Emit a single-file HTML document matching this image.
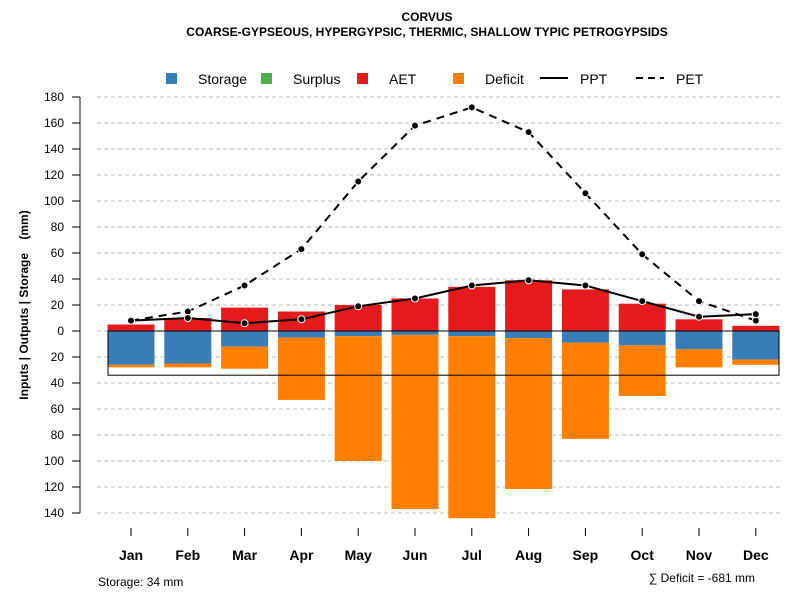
<!DOCTYPE html>
<html><head><meta charset="utf-8"><style>
body{margin:0;background:#fff;font-family:"Liberation Sans",sans-serif}
svg text{font-family:"Liberation Sans",sans-serif}
</style></head><body>
<svg id="chart" width="800" height="600" xmlns="http://www.w3.org/2000/svg">
<text x="427" y="21" text-anchor="middle" font-size="12" font-weight="bold">CORVUS</text>
<text x="427" y="36" text-anchor="middle" font-size="12" font-weight="bold">COARSE-GYPSEOUS, HYPERGYPSIC, THERMIC, SHALLOW TYPIC PETROGYPSIDS</text>
<g font-size="14">
<rect x="166" y="73" width="11" height="11" fill="#377eb8"/>
<text x="198" y="84">Storage</text>
<rect x="261" y="73" width="11" height="11" fill="#4daf4a"/>
<text x="293" y="84">Surplus</text>
<rect x="357" y="73" width="11" height="11" fill="#e41a1c"/>
<text x="389" y="84">AET</text>
<rect x="453" y="73" width="11" height="11" fill="#ff7f00"/>
<text x="485" y="84">Deficit</text>
<line x1="540" y1="78" x2="568" y2="78" stroke="#000" stroke-width="2"/>
<text x="580" y="84">PPT</text>
<line x1="636" y1="78" x2="664" y2="78" stroke="#000" stroke-width="2" stroke-dasharray="7,5"/>
<text x="676" y="84">PET</text>
</g>
<text transform="translate(28,305) rotate(-90)" text-anchor="middle" font-size="12" font-weight="bold" xml:space="preserve">Inputs | Outputs | Storage    (mm)</text>
<text x="98" y="586" font-size="12">Storage: 34 mm</text>
<text x="755" y="582" text-anchor="end" font-size="12">∑ Deficit = -681 mm</text>
<g id="plot"></g>
</svg>
<script>
const months=["Jan","Feb","Mar","Apr","May","Jun","Jul","Aug","Sep","Oct","Nov","Dec"];
const aet=[5,10,18,15,20,25,34,39,32,21,9,4];
const storage=[26,25,12,5,4,3,4,5.5,9,11,14,22];
const deficit=[2,3,17,48,96,134,140,116,74,39,14,4];
const ppt=[8,10,6,9,19,25,35,39,35,23,11,13];
const pet=[8,15,35,63,115,158,172,153,106,59,23,8];
const yTicks=[180,160,140,120,100,80,60,40,20,0,-20,-40,-60,-80,-100,-120,-140];
const capacity=34;
const NS="http://www.w3.org/2000/svg";
const g=document.getElementById('plot');
const y=v=>331-v*1.3;
const x=i=>131+i*56.8;
function mk(t,a){const e=document.createElementNS(NS,t);for(const k in a)e.setAttribute(k,a[k]);g.appendChild(e);return e;}
let e;
e=mk('line',{x1:80,y1:y(180),x2:80,y2:y(-140),stroke:'#888',"stroke-width":2});


yTicks.forEach(v=>{
 e=mk('line',{x1:97,y1:y(v),x2:780,y2:y(v),stroke:'#bbb',"stroke-dasharray":"4,3"});
 
 
 e=mk('line',{x1:72,y1:y(v),x2:80,y2:y(v),stroke:'#000'});
 
 
 e=mk('text',{x:64,y:y(v)+4,"text-anchor":"end","font-size":12});
 e.textContent=Math.abs(v);
 
 
});
months.forEach((m,i)=>{
 const bx=x(i)-23.5,w=47;
 e=mk('rect',{x:bx,y:y(aet[i]),width:w,height:aet[i]*1.3,fill:'#e41a1c'});
 
 
 e=mk('rect',{x:bx,y:y(0),width:w,height:storage[i]*1.3,fill:'#377eb8'});
 
 
 e=mk('rect',{x:bx,y:y(-storage[i]),width:w,height:deficit[i]*1.3,fill:'#ff7f00'});
 
 
 e=mk('line',{x1:x(i),y1:528,x2:x(i),y2:536,stroke:'#000'});
 
 
 e=mk('text',{x:x(i),y:560,"text-anchor":"middle","font-size":14,"font-weight":"bold"});
 e.textContent=m;
 
 
});
e=mk('rect',{x:108,y:y(0),width:671,height:capacity*1.3,fill:'none',stroke:'#000'});


e=mk('path',{d:pet.map((v,i)=>(i?'L':'M')+x(i)+','+y(v)).join(''),fill:'none',stroke:'#000',"stroke-width":2,"stroke-dasharray":"8,6"});


e=mk('path',{d:ppt.map((v,i)=>(i?'L':'M')+x(i)+','+y(v)).join(''),fill:'none',stroke:'#000',"stroke-width":2});


pet.forEach((v,i)=>{
 e=mk('circle',{cx:x(i),cy:y(v),r:3.5,fill:'#000',stroke:'#fff',"stroke-width":1});
 
 
});
ppt.forEach((v,i)=>{
 e=mk('circle',{cx:x(i),cy:y(v),r:3.5,fill:'#000',stroke:'#fff',"stroke-width":1});
 
 
});
</script>
</body></html>
